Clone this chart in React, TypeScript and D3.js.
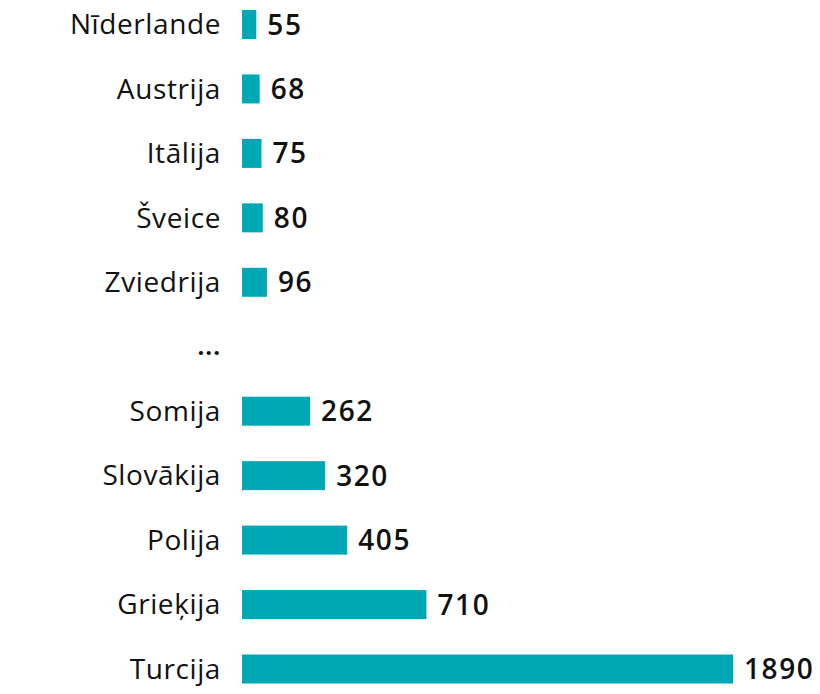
import * as d3 from 'd3';

const countries = ['Nīderlande', 'Austrija', 'Itālija', 'Šveice', 'Zviedrija', '...', 'Somija', 'Slovākija', 'Polija', 'Grieķija', 'Turcija'];
const values: (number | null)[] = [55, 68, 75, 80, 96, null, 262, 320, 405, 710, 1890];

const W = 820;
const H = 694;
const BAR = '#00a8b5';

export default function App() {
  const y = d3.scalePoint<string>().domain(countries).range([24.5, 669]);
  const x = d3.scaleLinear().domain([0, 1890]).range([242, 733]);
  const barH = 29;

  return (
    <svg width={W} height={H} style={{ position: 'absolute', left: 0, top: 0, background: '#fff' }}
      fontFamily="'Open Sans', 'Noto Sans', sans-serif">
      {countries.map((c, i) => {
        const v = values[i];
        const cy = y(c) ?? 0;
        if (v === null) {
          // gap marker between the two groups of countries
          return (
            <text key={c} x={221} y={cy + 8} textAnchor="end" fontSize={24} fontWeight={700}
              letterSpacing={1} fill="#111">
              {'...'}
            </text>
          );
        }
        return (
          <g key={c}>
            <text x={221} y={cy} dy="0.35em" textAnchor="end" fontSize={28} letterSpacing={0.6} fill="#111">{c}</text>
            <rect x={x(0)} y={cy - barH / 2} width={x(v) - x(0)} height={barH} fill={BAR} />
            <text x={x(v) + 11} y={cy} dy="0.36em" fontSize={28} fontWeight={600} letterSpacing={1.6} fill="#111">{v}</text>
          </g>
        );
      })}
    </svg>
  );
}
